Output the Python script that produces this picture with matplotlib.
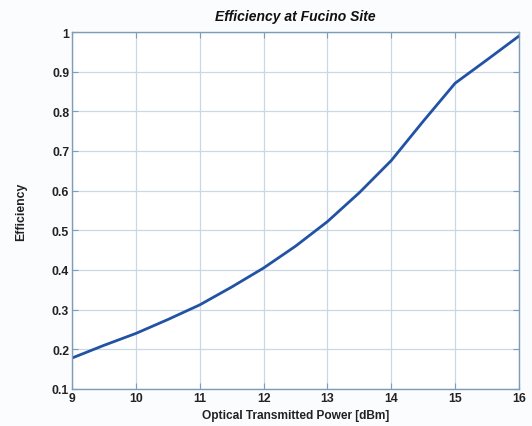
import matplotlib
matplotlib.use('Agg')
import matplotlib.pyplot as plt

# Data
power_dbm = [9, 9.5, 10, 10.5, 11, 11.5, 12, 12.5, 13, 13.5, 14, 14.5, 15, 15.5, 16]
efficiency = [0.178, 0.21, 0.24, 0.275, 0.312, 0.357, 0.405, 0.46, 0.522,
              0.595, 0.676, 0.775, 0.871, 0.93, 0.99]
x_ticks = [9, 10, 11, 12, 13, 14, 15, 16]
y_ticks = [0.1, 0.2, 0.3, 0.4, 0.5, 0.6, 0.7, 0.8, 0.9, 1.0]
y_tick_labels = ['0.1', '0.2', '0.3', '0.4', '0.5', '0.6', '0.7', '0.8', '0.9', '1']

plt.rcParams['font.family'] = ['Liberation Sans', 'DejaVu Sans']

fig = plt.figure(figsize=(5.32, 4.27), dpi=100, facecolor='#fbfcfe')
ax = fig.add_axes([0.1353, 0.0867, 0.8403, 0.836])
ax.set_facecolor('white')

ax.plot(power_dbm, efficiency, color='#2152a3', linewidth=2.0)

ax.set_xlim(9, 16)
ax.set_ylim(0.1, 1.0)
ax.set_xticks(x_ticks)
ax.set_yticks(y_ticks)
ax.set_yticklabels(y_tick_labels)

ax.grid(True, color='#c9d8e6', linewidth=0.9)
ax.set_axisbelow(True)
for s in ax.spines.values():
    s.set_color('#7d9cbc')
    s.set_linewidth(1.0)
ax.tick_params(direction='in', length=4, color='#7d9cbc', top=True, right=True,
               labelsize=8.8, pad=2)
for lbl in ax.get_xticklabels() + ax.get_yticklabels():
    lbl.set_fontweight('bold')
    lbl.set_color('#222222')

ax.set_title('Efficiency at Fucino Site', fontsize=10, fontweight='bold',
             fontstyle='italic', color='#111111', pad=9)
ax.set_xlabel('Optical Transmitted Power [dBm]', fontsize=8.6, fontweight='bold',
              color='#222222', labelpad=4)
ax.set_ylabel('Efficiency', fontsize=8.8, fontweight='bold', color='#222222',
              labelpad=18)

fig.savefig('out.png', dpi=100, facecolor=fig.get_facecolor())
